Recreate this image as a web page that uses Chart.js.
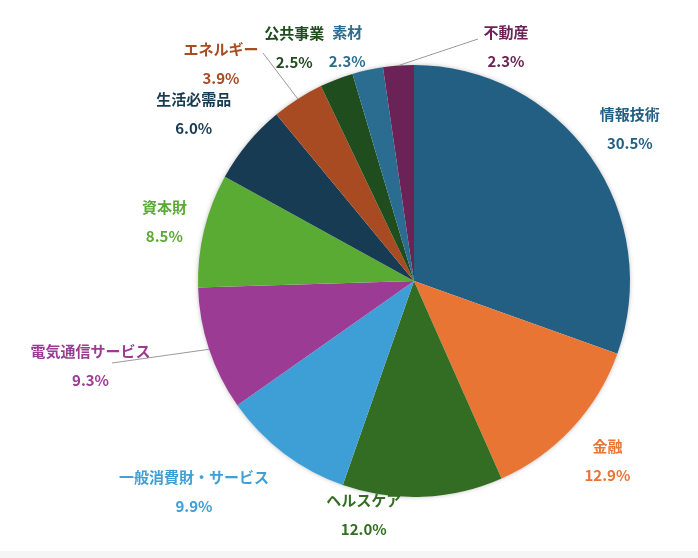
<!DOCTYPE html>
<html>
<head>
<meta charset="utf-8">
<script src="https://cdn.jsdelivr.net/npm/chart.js@4"></script>
<style>
  html, body { margin: 0; padding: 0; background: #f5f5f5; }
  #wrap { width: 698px; height: 551px; background: #fff; }
</style>
</head>
<body>
<div id="wrap"><canvas id="myChart" width="698" height="551"></canvas></div>
<script>
// sector names and weights (%)
const sectors = ['情報技術', '金融', 'ヘルスケア', '一般消費財・サービス', '電気通信サービス', '資本財', '生活必需品', 'エネルギー', '公共事業', '素材', '不動産'];
const weights = [30.5, 12.9, 12.0, 9.9, 9.3, 8.5, 6.0, 3.9, 2.5, 2.3, 2.3];
const sliceColors = ['#225f82', '#e97535', '#336d24', '#3e9fd7', '#9b3b93', '#5aab34', '#173b52', '#a84b22', '#1f4d1e', '#2b6d90', '#6b2357'];

// label nudges away from the plain radial spot, and which ones get a leader line
const nudges = [[0, 0], [0, 0], [-61, -30], [-61, 0], [-73, 1], [7, 3], [-17, 1], [-51, 5], [-25, 13], [-10, 24], [111, 29]];
const leaderEnds = {4: [112, 363], 7: [263, 53], 10: [478, 39]};

const pieShadow = {
  id: 'pieShadow',
  beforeDatasetsDraw(chart) {
    const arc = chart.getDatasetMeta(0).data[0];
    const c = chart.ctx;
    c.save();
    c.shadowColor = 'rgba(0,0,0,0.3)';
    c.shadowBlur = 5;
    c.fillStyle = '#fff';
    c.beginPath();
    c.arc(arc.x, arc.y, arc.outerRadius - 0.5, 0, Math.PI * 2);
    c.fill();
    c.restore();
  }
};

const outLabels = {
  id: 'outLabels',
  afterDatasetsDraw(chart) {
    const c = chart.ctx;
    const arcs = chart.getDatasetMeta(0).data;
    c.save();
    arcs.forEach(function (arc, i) {
      const mid = (arc.startAngle + arc.endAngle) / 2;
      const r = arc.outerRadius;
      if (leaderEnds[i]) {
        c.strokeStyle = '#9a9a9a';
        c.lineWidth = 1;
        c.beginPath();
        c.moveTo(arc.x + Math.cos(mid) * r, arc.y + Math.sin(mid) * r);
        c.lineTo(leaderEnds[i][0], leaderEnds[i][1]);
        c.stroke();
      }
      const lx = arc.x + Math.cos(mid) * (r + 48) + nudges[i][0];
      const ly = arc.y + Math.sin(mid) * (r + 48) + nudges[i][1];
      c.fillStyle = sliceColors[i];
      c.font = "bold 15px 'Noto Sans CJK JP'";
      c.textAlign = 'center';
      c.textBaseline = 'middle';
      c.fillText(sectors[i], lx, ly - 14.5);
      c.fillText(weights[i].toFixed(1) + '%', lx, ly + 14.5);
    });
    c.restore();
  }
};

const ctx = document.getElementById('myChart');

new Chart(ctx, {
  type: 'pie',
  data: {
    labels: sectors,
    datasets: [{
      data: weights,
      backgroundColor: sliceColors,
      borderWidth: 0
    }]
  },
  options: {
    responsive: false,
    animation: false,
    layout: { padding: { left: 198, right: 68, top: 65, bottom: 54 } },
    plugins: {
      legend: { display: false },
      tooltip: { enabled: false }
    }
  },
  plugins: [pieShadow, outLabels]
});
</script>
</body>
</html>
